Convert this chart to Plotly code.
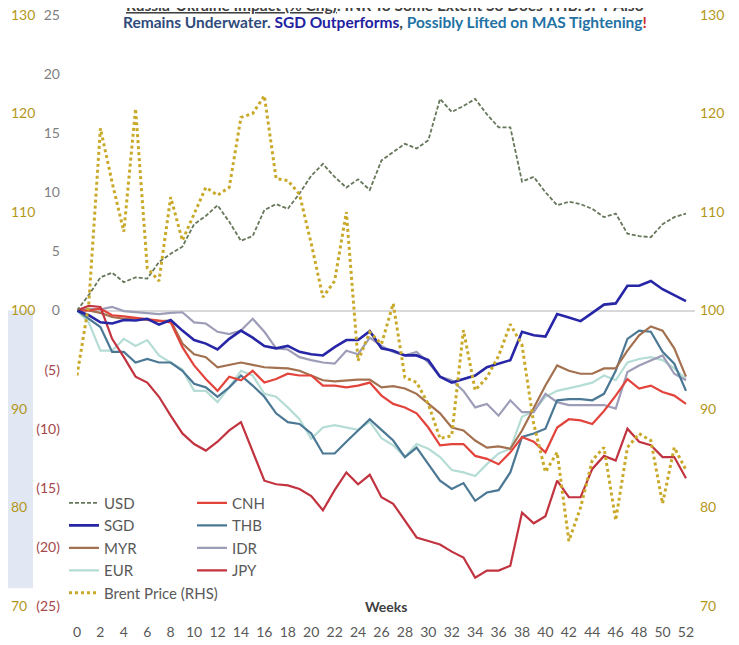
import plotly.graph_objects as go

weeks = list(range(53))

usd = [0, 1.3, 2.8, 3.2, 2.4, 2.8, 2.7, 4.1, 4.8, 5.4, 7.3, 8.0, 8.9, 7.5, 5.9, 6.3, 8.5, 9.0, 8.6, 9.9,
       11.4, 12.4, 11.3, 10.4, 11.1, 10.2, 12.7, 13.4, 14.1, 13.7, 14.4, 17.9, 16.8, 17.3, 17.9, 16.6, 15.5, 15.5,
       10.9, 11.3, 10.0, 8.9, 9.2, 9.0, 8.6, 7.9, 8.2, 6.5, 6.3, 6.2, 7.3, 7.9, 8.2]
sgd = [0, -0.4, -1.0, -1.1, -0.8, -0.85, -0.7, -1.2, -0.8, -1.7, -2.5, -2.8, -3.3, -2.4, -1.7, -2.3, -3.0, -3.2,
       -3.0, -3.5, -3.7, -3.8, -3.1, -2.5, -2.5, -1.75, -3.2, -3.4, -3.8, -3.8, -4.2, -5.6, -6.1, -5.8, -5.5, -4.8,
       -4.5, -4.2, -1.8, -2.1, -2.2, -0.3, -0.6, -0.9, -0.2, 0.5, 0.6, 2.1, 2.1, 2.5, 1.8, 1.3, 0.8]
myr = [0, 0, -0.2, -0.55, -0.7, -0.7, -0.8, -0.9, -0.85, -2.8, -3.7, -3.95, -4.8, -4.6, -4.4, -4.6, -4.8, -4.85,
       -4.9, -5.1, -5.5, -5.9, -6.0, -5.9, -5.85, -5.85, -6.5, -6.4, -6.6, -7.05, -7.9, -8.7, -9.9, -10.15, -11.0,
       -11.6, -11.5, -11.7, -10.15, -8.2, -6.35, -4.65, -5.1, -5.35, -5.35, -4.9, -4.9, -3.4, -2.1, -1.35, -1.7,
       -3.2, -5.6]
eur = [0, -1.0, -3.4, -3.4, -2.4, -3.0, -2.5, -3.8, -4.4, -5.0, -6.8, -6.8, -7.75, -6.5, -5.1, -5.5, -7.05, -7.3,
       -8.2, -9.2, -10.85, -9.9, -9.7, -9.9, -10.1, -9.4, -10.8, -11.4, -12.4, -11.3, -11.7, -12.4, -13.5, -13.7,
       -14.0, -13.0, -12.1, -11.7, -9.0, -8.5, -7.3, -6.8, -6.6, -6.35, -6.1, -5.5, -5.9, -4.4, -4.1, -3.95, -4.2,
       -4.9, -5.8]
cnh = [0, 0, 0.15, -0.4, -0.5, -0.6, -0.7, -0.85, -1.0, -3.1, -4.65, -5.8, -6.8, -5.6, -5.9, -5.1, -6.1, -5.8,
       -5.35, -5.5, -5.5, -6.35, -6.35, -6.5, -6.35, -6.1, -7.2, -7.9, -8.2, -8.7, -9.9, -11.4, -11.3, -11.3, -12.3,
       -12.55, -13.0, -12.0, -10.7, -11.1, -12.0, -9.9, -9.2, -9.3, -9.6, -8.5, -7.2, -5.8, -6.6, -6.35, -6.9,
       -7.2, -7.9]
thb = [0, -0.7, -1.4, -3.5, -3.5, -4.4, -4.1, -4.4, -4.4, -5.1, -6.2, -6.5, -7.3, -6.5, -5.5, -6.35, -7.3, -8.7,
       -9.45, -9.6, -10.4, -12.1, -12.1, -11.1, -10.15, -9.2, -10.1, -11.0, -12.4, -11.6, -13.0, -14.4, -15.1, -14.6,
       -16.1, -15.4, -15.2, -13.7, -10.7, -10.4, -10.0, -7.6, -7.5, -7.5, -7.6, -7.05, -5.1, -2.4, -1.7, -1.8,
       -3.5, -4.5, -6.8]
idr = [0, 0.15, 0.1, 0.3, -0.05, -0.15, -0.2, -0.3, -0.2, -0.15, -1.0, -1.1, -1.8, -2.0, -1.7, -0.7, -1.8, -3.2,
       -3.3, -3.95, -4.2, -4.4, -4.5, -3.4, -3.7, -2.3, -3.0, -3.5, -3.8, -3.5, -4.4, -5.6, -5.9, -6.8, -8.2, -7.9,
       -8.9, -7.6, -8.6, -8.6, -7.05, -7.75, -8.0, -8.0, -8.0, -8.0, -8.3, -5.2, -4.65, -4.2, -3.8, -5.35, -5.9]
jpy = [0, 0.4, 0.3, -2.4, -3.95, -5.6, -6.1, -7.3, -8.9, -10.4, -11.3, -11.85, -11.1, -10.15, -9.45, -11.85,
       -14.4, -14.7, -14.8, -15.1, -15.7, -16.9, -15.2, -13.7, -14.7, -13.9, -15.8, -16.35, -17.8, -19.2, -19.5,
       -19.8, -20.4, -20.9, -22.6, -22.0, -22.0, -21.6, -17.1, -18.0, -17.4, -14.4, -15.8, -15.8, -13.4, -12.3,
       -12.7, -10.0, -11.1, -11.4, -12.4, -12.4, -14.2]
brent = [93.4, 100.6, 118.5, 113.0, 108.0, 120.5, 104.3, 103.0, 111.5, 107.1, 109.8, 112.5, 111.7, 112.5, 119.6,
         120.0, 121.8, 113.4, 113.2, 111.8, 106.8, 101.35, 103.0, 110.0, 94.9, 97.8, 96.6, 100.7, 93.2, 92.7, 90.5,
         87.0, 87.3, 98.0, 91.9, 93.2, 95.4, 98.6, 96.5, 88.5, 83.6, 85.6, 76.6, 80.0, 84.8, 86.1, 78.7, 86.1, 87.5,
         86.8, 80.4, 86.1, 83.8]

x_ticks = list(range(0, 53, 2))
left_ticks = [-25, -20, -15, -10, -5, 0, 5, 10, 15, 20, 25]
left_labels = ["(25)", "(20)", "(15)", "(10)", "(5)", "0", "5", "10", "15", "20", "25"]
right_ticks = [70, 80, 90, 100, 110, 120, 130]

FONT = "Liberation Sans Narrow, Lato, sans-serif"
GOLD = "#b3971a"
NEG = "#a5484a"
GREY = "#7f7f7f"

fig = go.Figure()

col1 = [("USD", usd, "#66775a", "4px,2px", 1.8),
        ("SGD", sgd, "#2626a6", "solid", 2.6),
        ("MYR", myr, "#a3714f", "solid", 2.2),
        ("EUR", eur, "#b5ddd6", "solid", 2.2)]
col2 = [("CNH", cnh, "#e2443c", "solid", 2.2),
        ("THB", thb, "#4b7894", "solid", 2.2),
        ("IDR", idr, "#9d9db8", "solid", 2.2),
        ("JPY", jpy, "#c23340", "solid", 2.2)]

draw_order = [col1[3], col2[2], col2[1], col1[2], col2[0], col2[3], col1[1], col1[0]]

fig.add_trace(go.Scatter(x=weeks, y=brent, name="Brent Price (RHS)", yaxis="y2", mode="lines",
                         line=dict(color="#c9a92a", width=3, dash="dot"),
                         legend="legend", legendgroup="brent", legendrank=5))

rank = {n: i for i, (n, *_r) in enumerate(col1)}
rank.update({n: i for i, (n, *_r) in enumerate(col2)})
leg = {n: "legend" for n, *_r in col1}
leg.update({n: "legend2" for n, *_r in col2})

for name, vals, color, dash, w in draw_order:
    fig.add_trace(go.Scatter(x=weeks, y=vals, name=name, mode="lines",
                             line=dict(color=color, width=w, dash=dash),
                             legend=leg[name], legendgroup=name, legendrank=rank[name]))

fig.add_trace(go.Scatter(x=[None], y=[None], yaxis="y3", showlegend=False, hoverinfo="skip"))

fig.update_layout(
    width=731, height=637,
    margin=dict(l=2, r=44, t=7, b=39, autoexpand=False),
    paper_bgcolor="white", plot_bgcolor="white",
    font=dict(family=FONT, color="#595959", size=14),
    showlegend=True,
    legend=dict(x=0.0788, y=0.202, xanchor="left", yanchor="top", bgcolor="rgba(0,0,0,0)",
                font=dict(size=15, color="#595959", family=FONT), tracegroupgap=0,
                traceorder="grouped", itemwidth=30),
    legend2=dict(x=0.2657, y=0.202, xanchor="left", yanchor="top", bgcolor="rgba(0,0,0,0)",
                 font=dict(size=15, color="#595959", family=FONT), tracegroupgap=0,
                 traceorder="grouped", itemwidth=30),
    xaxis=dict(domain=[0.0978, 1], range=[0, 52.77], tickvals=x_ticks, showgrid=False, zeroline=False,
               showline=False, ticks="", tickfont=dict(size=14, color="#595959"), ticklabelstandoff=16,
               automargin=False),
    yaxis=dict(range=[-25, 25], tickvals=left_ticks,
               ticktext=[("<span style='color:%s'>%s</span>" % (NEG, t)) if v < 0 else t
                         for v, t in zip(left_ticks, left_labels)],
               tickfont=dict(size=14, color=GREY), showgrid=False, zeroline=True,
               zerolinecolor="#d9d9d9", zerolinewidth=1.5, showline=False, ticks="",
               ticklabelstandoff=16, automargin=False, ticklabeloverflow="allow"),
    yaxis2=dict(range=[70, 130], tickvals=right_ticks, overlaying="y", side="right", anchor="x",
                showgrid=False, zeroline=False, showline=False, ticks="",
                tickfont=dict(size=14, color=GOLD, family=FONT), ticklabelstandoff=4, automargin=False,
                ticklabeloverflow="allow"),
    yaxis3=dict(range=[70, 130], tickvals=right_ticks, overlaying="y", side="right", anchor="free",
                position=0, showgrid=False, zeroline=False, showline=False, ticks="",
                tickfont=dict(size=14, color=GOLD, family=FONT), automargin=False,
                ticklabelstandoff=0, ticklabeloverflow="allow"),
)

fig.add_shape(type="rect", xref="paper", yref="paper", x0=-0.0146, x1=0.0336, y0=0.03, y1=0.5,
              fillcolor="#e1e7f3", line=dict(width=0), layer="below")

fig.add_annotation(xref="paper", yref="paper", x=0.5474, y=0.988, xanchor="center", yanchor="middle",
                   showarrow=False,
                   text=("<span style='color:#2f4b7c'>Remains Underwater. </span>"
                         "<span style='color:#2222a0'>SGD Outperforms</span>"
                         "<span style='color:#404040'>, </span>"
                         "<span style='color:#2272a4'>Possibly Lifted on MAS Tightening</span>"
                         "<span style='color:#d03030'>!</span>"),
                   font=dict(size=15.5, family=FONT, weight="bold"))
fig.add_annotation(xref="paper", yref="paper", x=0.5474, y=1.017, xanchor="center", yanchor="middle",
                   showarrow=False,
                   text="<u>Russia-Ukraine Impact (% Chg)</u>: INR To Some Extent So Does THB. JPY Also",
                   font=dict(size=15.5, family=FONT, color="#404040", weight="bold"))
fig.add_annotation(xref="paper", yref="paper", x=0.549, y=0.0, xanchor="center", yanchor="middle",
                   showarrow=False, text="<b>Weeks</b>", font=dict(size=14, family=FONT, color="#404040"))

fig.write_html("out.html")
